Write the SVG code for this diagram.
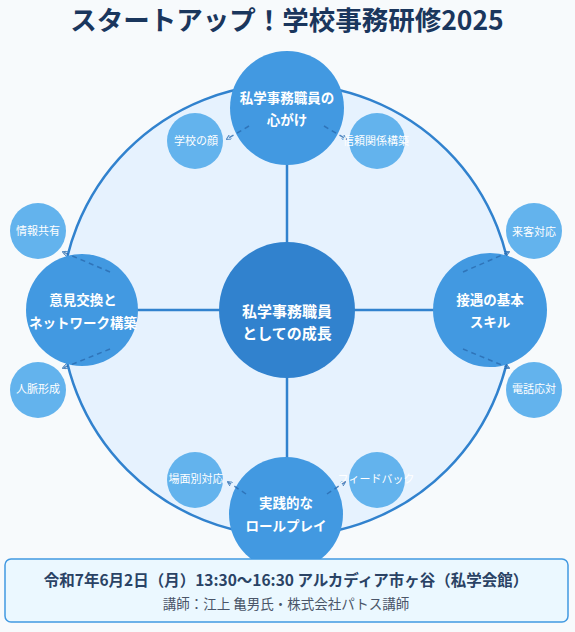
<svg xmlns="http://www.w3.org/2000/svg" width="575" height="632" viewBox="0 0 575 632">
<defs>
<style>
.bg{fill:#f7fafc}
.ring{fill:#e6f2fe;stroke:#3182ce;stroke-width:2.5}
.spoke{stroke:#3182ce;stroke-width:2.5;fill:none}
.dash{stroke:#2b6cb0;stroke-width:1.5;stroke-dasharray:5 4;fill:none;opacity:0.8}
.main{fill:#4299e1}
.core{fill:#3182ce}
.sat{fill:#63b3ed}
.t{font-family:"Noto Sans CJK JP","Noto Sans",sans-serif;text-anchor:middle}
.title{font-size:26.5px;font-weight:bold;fill:#1a365d}
.mt{font-size:13.5px;font-weight:bold;fill:#ffffff}
.ct{font-size:15px;font-weight:bold;fill:#ffffff}
.st{font-size:11px;fill:#ffffff}
.box{fill:#ebf8ff;stroke:#4299e1;stroke-width:1.5}
.b1{font-size:15.5px;font-weight:bold;fill:#2a4365}
.b2{font-size:13.5px;fill:#4a5568}
</style>
<marker id="tip" viewBox="0 0 6 6" refX="5" refY="3" markerWidth="5" markerHeight="5" orient="auto" markerUnits="userSpaceOnUse">
<path d="M0,0 L6,3 L0,6" fill="none" stroke="#2b6cb0" stroke-width="1.2"/>
</marker>
</defs>
<rect class="bg" x="0" y="0" width="575" height="632"/>
<text class="t title" x="287" y="30">スタートアップ！学校事務研修2025</text>
<g id="ring"><circle class="ring" cx="287" cy="310" r="226"/></g>
<g id="connectors">
<line class="spoke" x1="287" y1="310" x2="287" y2="108"/>
<line class="spoke" x1="287" y1="310" x2="287" y2="514"/>
<line class="spoke" x1="287" y1="310" x2="82" y2="310"/>
<line class="spoke" x1="287" y1="310" x2="490" y2="310"/>
</g>
<g id="node-center"><circle class="core" cx="287" cy="310" r="68"/>
<text class="t ct" x="287" y="317">私学事務職員</text><text class="t ct" x="287" y="339">としての成長</text></g>
<g id="node-top"><circle class="main" cx="287" cy="108" r="57"/>
<text class="t mt" x="287" y="103">私学事務職員の</text><text class="t mt" x="287" y="125">心がけ</text></g>
<g id="node-left"><circle class="main" cx="82" cy="310" r="56"/>
<text class="t mt" x="83" y="305">意見交換と</text><text class="t mt" x="83" y="328">ネットワーク構築</text></g>
<g id="node-right"><circle class="main" cx="490" cy="310" r="57"/>
<text class="t mt" x="490" y="305">接遇の基本</text><text class="t mt" x="490" y="327">スキル</text></g>
<g id="node-bottom"><circle class="main" cx="286" cy="514" r="57"/>
<text class="t mt" x="286" y="508">実践的な</text><text class="t mt" x="286" y="531">ロールプレイ</text></g>
<g id="sub-connectors">
<line class="dash" x1="249" y1="126" x2="227" y2="139" marker-end="url(#tip)"/>
<line class="dash" x1="324" y1="126" x2="346" y2="139" marker-end="url(#tip)"/>
<line class="dash" x1="110" y1="272" x2="63" y2="252" marker-end="url(#tip)"/>
<line class="dash" x1="110" y1="349" x2="63" y2="368" marker-end="url(#tip)"/>
<line class="dash" x1="463" y1="272" x2="509" y2="252" marker-end="url(#tip)"/>
<line class="dash" x1="463" y1="349" x2="509" y2="368" marker-end="url(#tip)"/>
<line class="dash" x1="246" y1="494" x2="228" y2="482" marker-end="url(#tip)"/>
<line class="dash" x1="327" y1="494" x2="345" y2="482" marker-end="url(#tip)"/>
</g>
<g id="sat-face"><circle class="sat" cx="195" cy="141" r="28"/><text class="t st" x="196" y="145">学校の顔</text></g>
<g id="sat-trust"><circle class="sat" cx="377" cy="141" r="28"/><text class="t st" x="376" y="145">信頼関係構築</text></g>
<g id="sat-info"><circle class="sat" cx="38" cy="231" r="28"/><text class="t st" x="38" y="235">情報共有</text></g>
<g id="sat-network"><circle class="sat" cx="38" cy="390" r="28"/><text class="t st" x="38" y="393">人脈形成</text></g>
<g id="sat-visitor"><circle class="sat" cx="534" cy="231" r="28"/><text class="t st" x="534" y="236">来客対応</text></g>
<g id="sat-phone"><circle class="sat" cx="534" cy="390" r="28"/><text class="t st" x="534" y="393">電話応対</text></g>
<g id="sat-scene"><circle class="sat" cx="195" cy="480" r="28"/><text class="t st" x="196" y="483">場面別対応</text></g>
<g id="sat-feedback"><circle class="sat" cx="377" cy="480" r="28"/><text class="t st" x="376" y="483">フィードバック</text></g>
<g id="info-box"><rect class="box" x="5" y="559" width="563" height="63" rx="6"/>
<text class="t b1" x="286" y="586">令和7年6月2日（月）13:30〜16:30 アルカディア市ヶ谷（私学会館）</text>
<text class="t b2" x="286" y="609">講師：江上 亀男氏・株式会社パトス講師</text></g>
</svg>
